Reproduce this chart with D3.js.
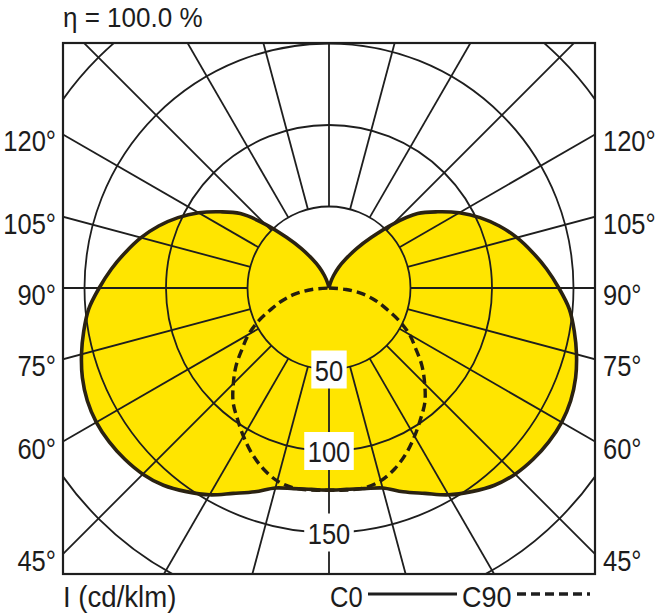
<!DOCTYPE html>
<html><head><meta charset="utf-8">
<script src="https://cdn.jsdelivr.net/npm/d3@7"></script>
<style>
body{margin:0;background:#fff}
text{font-family:"Liberation Sans",Arial,sans-serif;fill:#1c1c1c}
</style></head><body>
<svg id="c" width="660" height="616"></svg>
<script>
// Gamma angles (deg from nadir), 5 deg steps
const angles = d3.range(0, 181, 5);
// C0 plane intensities (cd/klm), 0..180 deg
const c0 = [124,124,125,127,133,139,146.5,152.5,158,161.5,163.5,164.6,164.8,163.6,161,157.2,152.8,148,
            141,134,126.7,119.4,111.2,102.2,92.3,81.5,71,55.5,40.6,29.5,20.5,14,8,3,0,0,0];
// C90 plane intensities (cd/klm), 0..90 deg (no upward light)
const c90Angles = d3.range(0, 91, 5);
const c90 = [124,124.5,124.5,122.5,118,112,105,98,91.5,83,74.5,65,57,47.5,37.5,29.5,21,10.5,0];
const circleValues = [50,100,150,200];
const circleLabels = [50,100,150];
const spokeAngles = d3.range(0, 360, 15);
const sideLabels = [45,60,75,90,105,120];
const efficiencyText = "η = 100.0 %";
const unitText = "I (cd/klm)";
const seriesNames = ["C0","C90"];

const svg = d3.select("#c");
const frame = {x0: 63, x1: 595, y0: 43, y1: 574};
const cx = 329, cy = 288;
const r = d3.scaleLinear().domain([0, 50]).range([0, 81.5]);
const ink = "#1e1e1e";
const SX = 0.85; // condensed look

function label(parent, x, y, txt, size, anchor, sx) {
  return parent.append("text")
    .attr("transform", `translate(${x},${y}) scale(${sx},1)`)
    .attr("text-anchor", anchor).attr("font-size", size).text(txt);
}

const g = svg.append("g").attr("transform", `translate(${cx},${cy})`);

svg.append("defs").append("clipPath").attr("id","fr")
  .append("rect").attr("x", frame.x0 - cx).attr("y", frame.y0 - cy)
  .attr("width", frame.x1 - frame.x0).attr("height", frame.y1 - frame.y0);

function fullCurve(vals, angs) {
  const pts = [];
  const lookup = new Map(angs.map((a, i) => [a, vals[i]]));
  for (let a = 0; a < 360; a += 5) {
    const gam = Math.abs(180 - a);
    const v = lookup.has(gam) ? lookup.get(gam) : 0;
    pts.push([a * Math.PI / 180, r(v)]);
  }
  return pts;
}
const c0Pts = fullCurve(c0, angles);
const radial = d3.lineRadial().angle(d => d[0]).radius(d => d[1]).curve(d3.curveCatmullRomClosed.alpha(0.5));

// fill
g.append("path").attr("d", radial(c0Pts)).attr("fill", "#ffe500").attr("stroke", "none");

// grid
const grid = g.append("g").attr("clip-path", "url(#fr)").attr("stroke", ink).attr("fill", "none").attr("stroke-width", 1.8);
grid.selectAll("circle").data(circleValues).join("circle").attr("r", d => r(d));
grid.selectAll("line").data(spokeAngles).join("line")
  .attr("x1", d => r(50) * Math.sin(d * Math.PI / 180))
  .attr("y1", d => r(50) * Math.cos(d * Math.PI / 180))
  .attr("x2", d => r(300) * Math.sin(d * Math.PI / 180))
  .attr("y2", d => r(300) * Math.cos(d * Math.PI / 180));

// circle labels
const fsLab = 30;
const lab = g.selectAll("g.cl").data(circleLabels).join("g").attr("class","cl")
  .attr("transform", d => `translate(0,${r(d)})`);
lab.each(function(d) {
  const gg = d3.select(this);
  const t = label(gg, 0, 11, d, fsLab, "middle", SX);
  const bb = t.node().getBBox();
  const w = bb.width * SX;
  gg.insert("rect","text").attr("x", -w / 2 - 3.5).attr("y", -19).attr("width", w + 7).attr("height", 38).attr("fill", "#fff");
});

// C90 dashed
const c90Line = d3.lineRadial().angle(d => d[0]).radius(d => d[1]).curve(d3.curveCatmullRom.alpha(0.5));
const c90Pts = [];
for (let i = c90Angles.length - 1; i >= 0; i--) c90Pts.push([Math.PI - c90Angles[i] * Math.PI / 180, r(c90[i])]);
for (let i = 1; i < c90Angles.length; i++) c90Pts.push([Math.PI + c90Angles[i] * Math.PI / 180, r(c90[i])]);
g.append("path").attr("d", c90Line(c90Pts)).attr("fill","none").attr("stroke", "#231d10")
  .attr("stroke-width", 3.4).attr("stroke-dasharray", "9,5");

// C0 outline
g.append("path").attr("d", radial(c0Pts)).attr("fill","none").attr("stroke", "#2a2212").attr("stroke-width", 3.6).attr("stroke-linejoin","round");

// frame
svg.append("rect").attr("x", frame.x0).attr("y", frame.y0).attr("width", frame.x1 - frame.x0).attr("height", frame.y1 - frame.y0)
  .attr("fill","none").attr("stroke", ink).attr("stroke-width", 2.2);

// side labels
const halfW = cx - frame.x0;
sideLabels.forEach(a => {
  const yHit = cy + halfW / Math.tan(a * Math.PI / 180);
  label(svg, 56, yHit + 17, a + "°", fsLab, "end", SX);
  label(svg, 603, yHit + 17, a + "°", fsLab, "start", SX);
});

// top & bottom texts
label(svg, 63, 27, efficiencyText, 28, "start", 0.93);
label(svg, 63, 607, unitText, 30, "start", 0.92);

// legend
label(svg, 330, 607, seriesNames[0], fsLab, "start", SX);
svg.append("line").attr("x1", 368).attr("x2", 457).attr("y1", 594).attr("y2", 594).attr("stroke", ink).attr("stroke-width", 3.2);
label(svg, 462, 607, seriesNames[1], fsLab, "start", 0.9);
svg.append("line").attr("x1", 517).attr("x2", 590).attr("y1", 594).attr("y2", 594).attr("stroke", ink).attr("stroke-width", 3.4).attr("stroke-dasharray","9,5");
</script>
</body></html>
